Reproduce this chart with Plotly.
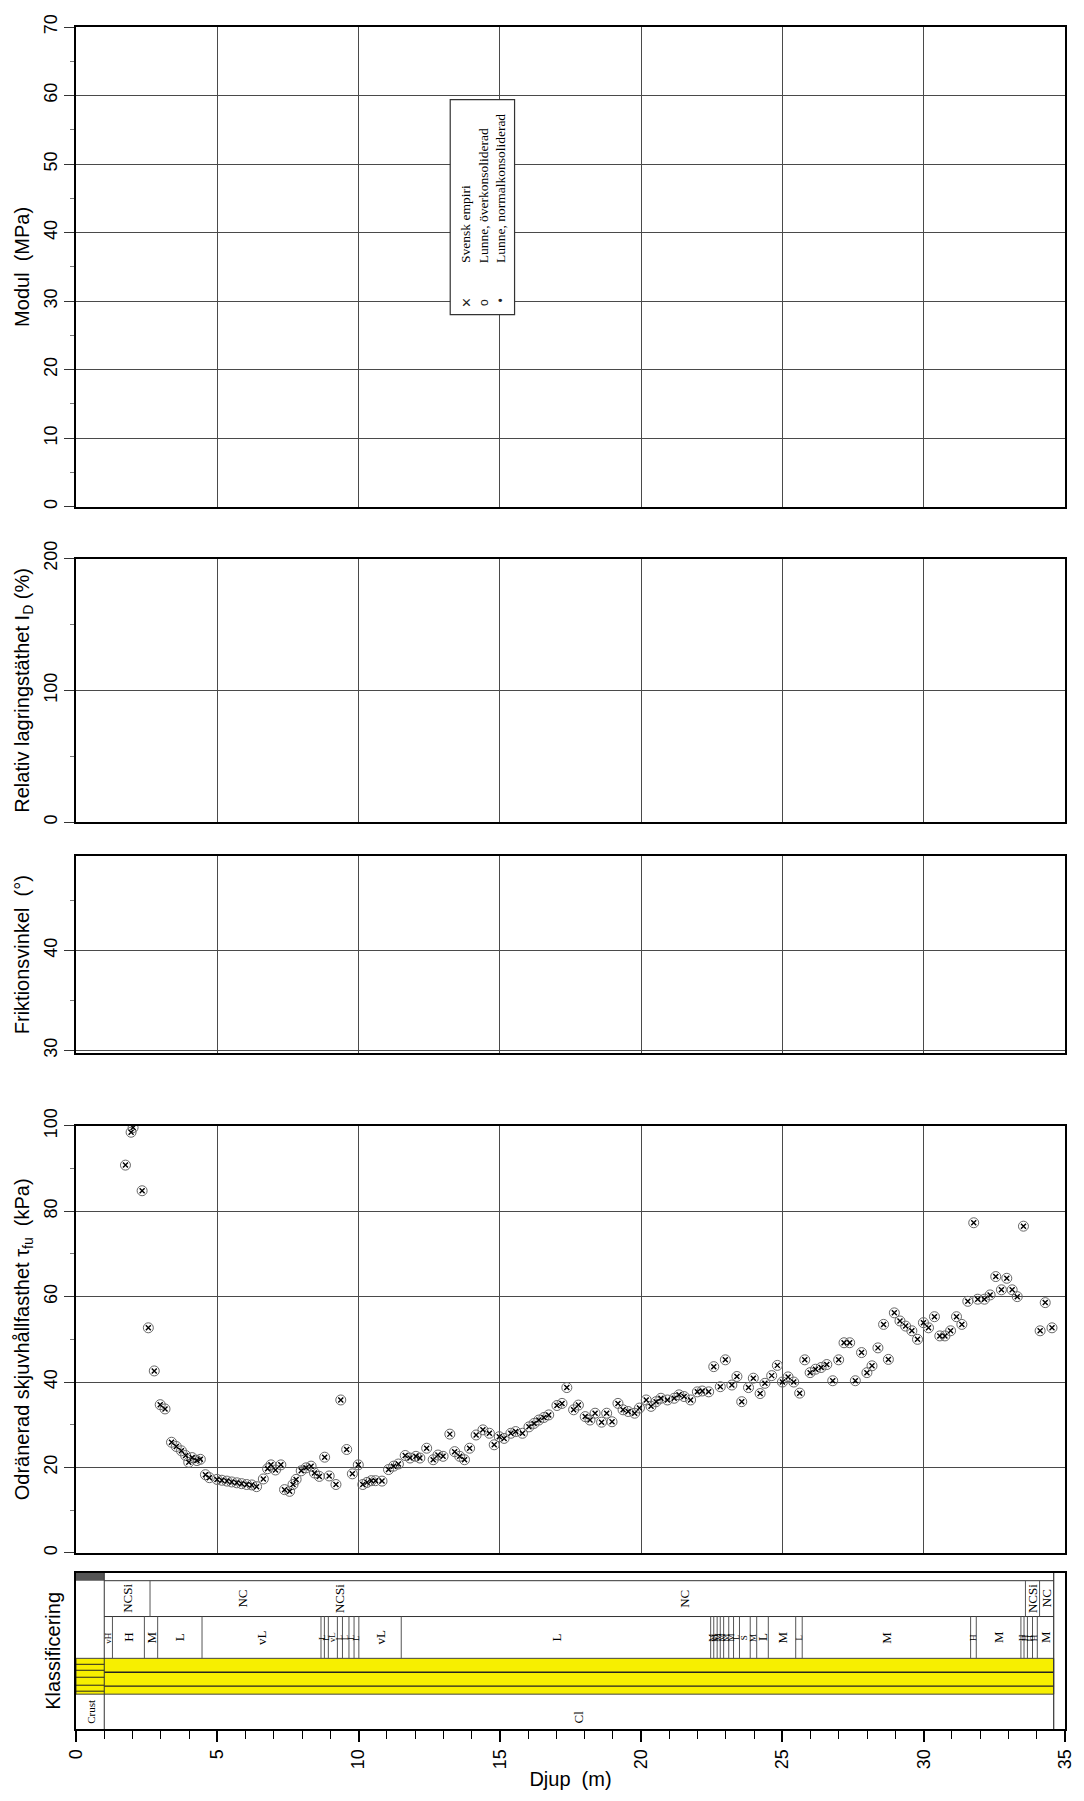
import plotly.graph_objects as go

# ---------------- data ----------------
depth_tfu = [1.75, 1.95, 2.02, 2.34, 2.56, 2.77, 2.98, 3.15, 3.38, 3.55, 3.73, 3.88, 3.99, 4.11, 4.28, 4.40,
             4.58, 4.72, 4.99, 5.16, 5.34, 5.51, 5.69, 5.86, 6.04, 6.22, 6.39, 6.63, 6.78, 6.90, 7.06, 7.25,
             7.38, 7.56, 7.68, 7.79, 7.97, 8.14, 8.32, 8.44, 8.61, 8.80, 8.96, 9.20, 9.37, 9.58, 9.78, 9.99,
             10.15, 10.30, 10.45, 10.60, 10.83, 11.06, 11.24, 11.41, 11.65, 11.82, 12.03, 12.17, 12.41, 12.64,
             12.81, 12.99, 13.23, 13.40, 13.58, 13.75, 13.93, 14.16, 14.40, 14.63, 14.80, 14.98, 15.15, 15.39,
             15.56, 15.80, 16.03, 16.21, 16.38, 16.56, 16.73, 17.02, 17.20, 17.37, 17.61, 17.78, 18.02, 18.19,
             18.37, 18.60, 18.78, 18.97, 19.18, 19.36, 19.54, 19.77, 19.94, 20.18, 20.35, 20.53, 20.70, 20.93,
             21.17, 21.34, 21.52, 21.75, 21.99, 22.16, 22.39, 22.57, 22.80, 22.98, 23.21, 23.39, 23.56, 23.80,
             23.97, 24.21, 24.38, 24.62, 24.82, 25.00, 25.20, 25.40, 25.61, 25.79, 25.98, 26.17, 26.37, 26.57,
             26.78, 26.99, 27.18, 27.38, 27.58, 27.80, 27.99, 28.17, 28.38, 28.58, 28.75, 28.96, 29.16, 29.36,
             29.58, 29.78, 29.99, 30.17, 30.38, 30.57, 30.75, 30.95, 31.16, 31.35, 31.56, 31.77, 31.91, 32.15,
             32.35, 32.55, 32.75, 32.94, 33.13, 33.31, 33.53, 34.12, 34.30, 34.54]
tfu_kpa = [90.8, 98.5, 99.6, 84.8, 52.7, 42.6, 34.7, 33.7, 25.9, 24.9, 23.9, 22.8, 21.2, 22.3, 21.6, 21.9,
           18.3, 17.6, 17.2, 17.0, 16.8, 16.6, 16.4, 16.2, 16.0, 15.9, 15.5, 17.3, 19.7, 20.6, 19.4, 20.6,
           14.8, 14.4, 16.0, 17.2, 19.2, 19.9, 20.3, 18.7, 17.9, 22.4, 18.0, 16.0, 35.8, 24.2, 18.5, 20.6,
           16.0, 16.5, 16.9, 16.9, 16.8, 19.5, 20.3, 20.8, 22.8, 22.2, 22.6, 22.2, 24.5, 21.8,
           22.9, 22.6, 27.8, 23.7, 22.6, 21.8, 24.5, 27.6, 28.8, 28.0, 25.3, 27.2, 26.8, 28.0,
           28.4, 28.0, 29.5, 30.3, 31.1, 31.7, 32.3, 34.5, 35.0, 38.7, 33.5, 34.6, 31.9, 31.1,
           32.7, 30.6, 32.7, 30.7, 35.0, 33.5, 33.1, 32.7, 33.9, 35.8, 34.3, 35.4, 36.2, 35.8,
           36.2, 37.0, 36.6, 35.8, 37.7, 37.9, 37.7, 43.6, 38.9, 45.2, 39.3, 41.3, 35.4, 38.7,
           40.9, 37.3, 39.7, 41.5, 43.9, 40.0, 41.2, 40.0, 37.4, 45.2, 42.2, 43.0, 43.4, 44.1,
           40.3, 45.2, 49.2, 49.2, 40.3, 46.9, 42.2, 43.8, 48.0, 53.5, 45.3, 56.2, 54.3, 53.1,
           52.0, 50.0, 53.9, 52.7, 55.3, 50.8, 50.8, 52.0, 55.3, 53.5, 58.9, 77.3, 59.4, 59.4,
           60.4, 64.7, 61.6, 64.3, 61.6, 60.0, 76.5, 52.0, 58.6, 52.7]

legend_names = ["Svensk empiri", "Lunne, överkonsoliderad", "Lunne, normalkonsoliderad"]
legend_symbols = ["×", "o", "•"]

# Classification profile
crust_bounds = [0.0, 1.0]
cl_bounds = [1.0, 34.6]
row5_labels = ["Crust", "Cl"]

row2_bounds = [1.0, 2.62, 9.2, 9.45, 33.6, 34.1, 34.6]
row2_labels = ["NCSi", "NC", "NCSi", "NC", "NCSi", "NC"]
row2_dividers = [2.62, 33.6, 34.1]

row3_bounds = [1.0, 1.29, 2.42, 2.89, 4.46, 8.67, 8.79, 8.93, 9.25, 9.43, 9.66, 9.84, 10.01, 11.51,
               22.46, 22.57, 22.69, 22.80, 22.92, 23.10, 23.27, 23.48, 23.86, 24.09, 24.50, 25.47, 25.70,
               31.66, 31.86, 33.44, 33.55, 33.67, 33.85, 34.02, 34.6]
row3_labels = ["vH", "H", "M", "L", "vL", "L", "L", "vL", "L", "L", "L", "L", "vL", "L",
               "M", "M", "M", "M", "M", "M", "L", "S", "M", "L", "M", "L", "M",
               "H", "M", "H", "H", "H", "H", "M"]

# ---------------- layout geometry ----------------
W, H = 1084, 1801
L, R, T, B = 76, 9, 19, 72
PW = W - L - R
PH = H - T - B


def ydom(top_px, bot_px):
    return [(H - B - bot_px) / PH, (H - B - top_px) / PH]


def px_x(px):
    return (px - L) / PW


def px_y(py):
    return (H - B - py) / PH


AXFONT = dict(family="Liberation Sans, Arial, sans-serif", size=18, color="black")
TITLEFONT = dict(family="Liberation Sans, Arial, sans-serif", size=20, color="black")
SERIF = "Liberation Serif, Times New Roman, serif"
GRID = "#4a4a4a"

fig = go.Figure()

panels = {
    "": dict(dom=ydom(19, 501), rng=[0, 70], dtick=10, tick0=0, minor=5,
             title="Modul  (MPa)"),
    "2": dict(dom=ydom(553, 818), rng=[0, 200], dtick=100, tick0=0, minor=50,
              title="Relativ lagringstäthet I<sub>D</sub> (%)"),
    "3": dict(dom=ydom(852, 1050), rng=[29.73, 49.43], dtick=10, tick0=30, minor=5,
              title="Friktionsvinkel  (°)"),
    "4": dict(dom=ydom(1123, 1552), rng=[0, 100], dtick=20, tick0=0, minor=10,
              title="Odränerad skjuvhållfasthet τ<sub>fu</sub>  (kPa)"),
}

layout = dict(width=W, height=H, margin=dict(l=L, r=R, t=T, b=B),
              paper_bgcolor="white", plot_bgcolor="white", showlegend=False)

for k, p in panels.items():
    xa = "xaxis" + k
    ya = "yaxis" + k
    layout[xa] = dict(domain=[0, 1], range=[0, 35], anchor="y" + k, showgrid=True, gridcolor=GRID,
                      gridwidth=1.3, dtick=5, tick0=0, showticklabels=False, ticks="",
                      showline=True, mirror=True, linecolor="black", linewidth=2, zeroline=False)
    layout[ya] = dict(domain=p["dom"], range=p["rng"], anchor="x" + k, showgrid=True, gridcolor=GRID,
                      gridwidth=1.3, dtick=p["dtick"], tick0=p["tick0"], ticks="outside", ticklen=10,
                      tickwidth=1.3, tickcolor="#333", tickangle=-90, tickfont=AXFONT,
                      minor=dict(dtick=p["minor"], ticks="outside", ticklen=4, tickcolor="#777",
                                 showgrid=False),
                      showline=True, mirror=True, linecolor="black", linewidth=2, zeroline=False,
                      title=dict(text=p["title"], font=TITLEFONT, standoff=6))
    fig.add_trace(go.Scatter(x=[], y=[], xaxis="x" + k, yaxis="y" + k, showlegend=False))

# classification panel
layout["xaxis5"] = dict(domain=[0, 1], range=[0, 35], anchor="y5", showgrid=False, dtick=5, tick0=0,
                        ticks="outside", ticklen=11, tickwidth=1.5, tickcolor="black",
                        minor=dict(dtick=1, ticks="outside", ticklen=8, tickwidth=1.2, tickcolor="black"),
                        tickangle=-90, tickfont=AXFONT,
                        showline=True, mirror=True, linecolor="black", linewidth=2, zeroline=False,
                        title=dict(text="Djup  (m)", font=TITLEFONT, standoff=4))
layout["yaxis5"] = dict(domain=ydom(1572, 1729), range=[0, 1], anchor="x5", showgrid=False,
                        showticklabels=False, ticks="", showline=True, mirror=True,
                        linecolor="black", linewidth=2, zeroline=False,
                        title=dict(text="Klassificering", font=TITLEFONT, standoff=8))
fig.add_trace(go.Scatter(x=[], y=[], xaxis="x5", yaxis="y5", showlegend=False))

# shear strength points
fig.add_trace(go.Scatter(x=depth_tfu, y=tfu_kpa, mode="markers", xaxis="x4", yaxis="y4",
                         name=legend_names[1], cliponaxis=True,
                         marker=dict(symbol="circle-open", size=10, color="#666",
                                     line=dict(width=1.0, color="#666"))))
fig.add_trace(go.Scatter(x=depth_tfu, y=tfu_kpa, mode="markers", xaxis="x4", yaxis="y4",
                         name=legend_names[0], cliponaxis=True,
                         marker=dict(symbol="x-thin-open", size=5, color="black",
                                     line=dict(width=1.4, color="black"))))

shapes = []
annotations = []

# rows of classification panel (y in y5 units)
Y_TOP = 1.0
Y_R1 = (1729 - 1580) / 157
Y_R2 = (1729 - 1616) / 157
Y_R3 = (1729 - 1658) / 157
Y_R4 = (1729 - 1694) / 157


def line(x0, y0, x1, y1, w=1.0, c="#333"):
    shapes.append(dict(type="line", xref="x5", yref="y5", x0=x0, y0=y0, x1=x1, y1=y1,
                       line=dict(color=c, width=w)))


# dark top cell of crust
shapes.append(dict(type="rect", xref="x5", yref="y5", x0=0, x1=crust_bounds[1], y0=Y_R1, y1=Y_TOP,
                   fillcolor="#555", line=dict(width=0)))
# yellow band
shapes.append(dict(type="rect", xref="x5", yref="y5", x0=0, x1=cl_bounds[1], y0=Y_R4, y1=Y_R3,
                   fillcolor="#f7ef00", line=dict(width=1, color="#444")))
for yy in [(1729 - 1672) / 157, (1729 - 1686) / 157]:
    line(cl_bounds[0], yy, cl_bounds[1], yy, 1.3, "#222")
for py in [1664, 1670, 1677, 1685, 1691]:
    line(0, (1729 - py) / 157, crust_bounds[1], (1729 - py) / 157, 1.0, "#222")
# horizontal row lines
line(cl_bounds[0], Y_R1, cl_bounds[1], Y_R1, 1.0)
line(cl_bounds[0], Y_R2, cl_bounds[1], Y_R2, 1.0)
# main vertical lines
line(crust_bounds[1], 0, crust_bounds[1], 1, 1.0)
line(cl_bounds[1], 0, cl_bounds[1], 1, 1.2)

# row 2 dividers / labels
for xd in row2_dividers:
    line(xd, Y_R2, xd, Y_R1, 1.0, "#555")
for i, lab in enumerate(row2_labels):
    xm = (row2_bounds[i] + row2_bounds[i + 1]) / 2
    annotations.append(dict(x=xm, y=(Y_R1 + Y_R2) / 2, xref="x5", yref="y5", text=lab,
                            textangle=-90, showarrow=False,
                            font=dict(family=SERIF, size=13, color="black")))
# row 3 dividers / labels
for xd in row3_bounds[1:-1]:
    line(xd, Y_R3, xd, Y_R2, 1.0, "#555")
for i, lab in enumerate(row3_labels):
    x0, x1 = row3_bounds[i], row3_bounds[i + 1]
    wseg = x1 - x0
    fs = 13 if wseg > 0.4 else 9
    annotations.append(dict(x=(x0 + x1) / 2, y=(Y_R2 + Y_R3) / 2, xref="x5", yref="y5", text=lab,
                            textangle=-90, showarrow=False,
                            font=dict(family=SERIF, size=fs, color="black")))
# row 5 labels
annotations.append(dict(x=sum(crust_bounds) / 2, y=Y_R4 / 2, xref="x5", yref="y5", text=row5_labels[0],
                        textangle=-90, showarrow=False,
                        font=dict(family=SERIF, size=11, color="black")))
annotations.append(dict(x=sum(cl_bounds) / 2, y=0.08, xref="x5", yref="y5", text=row5_labels[1],
                        textangle=-90, showarrow=False,
                        font=dict(family=SERIF, size=13, color="black")))

# legend box in Modul panel
shapes.append(dict(type="rect", xref="paper", yref="paper", x0=px_x(454), x1=px_x(519),
                   y0=px_y(308), y1=px_y(92), fillcolor="white", line=dict(color="#333", width=1.2)))
for i, (nm, sym) in enumerate(zip(legend_names, legend_symbols)):
    cx = px_x([470, 488, 505][i])
    annotations.append(dict(x=cx, y=px_y(290), xref="paper", yref="paper", text=sym, showarrow=False,
                            textangle=-90,
                            font=dict(family="Liberation Sans, Arial, sans-serif",
                                      size=[16, 12, 12][i], color="#222")))
    annotations.append(dict(x=cx, y=px_y(258), xref="paper", yref="paper", text=nm, showarrow=False,
                            textangle=-90, yanchor="bottom",
                            font=dict(family=SERIF, size=13.5, color="black")))

layout["shapes"] = shapes
layout["annotations"] = annotations
fig.update_layout(**layout)
fig.write_html("out.html")
